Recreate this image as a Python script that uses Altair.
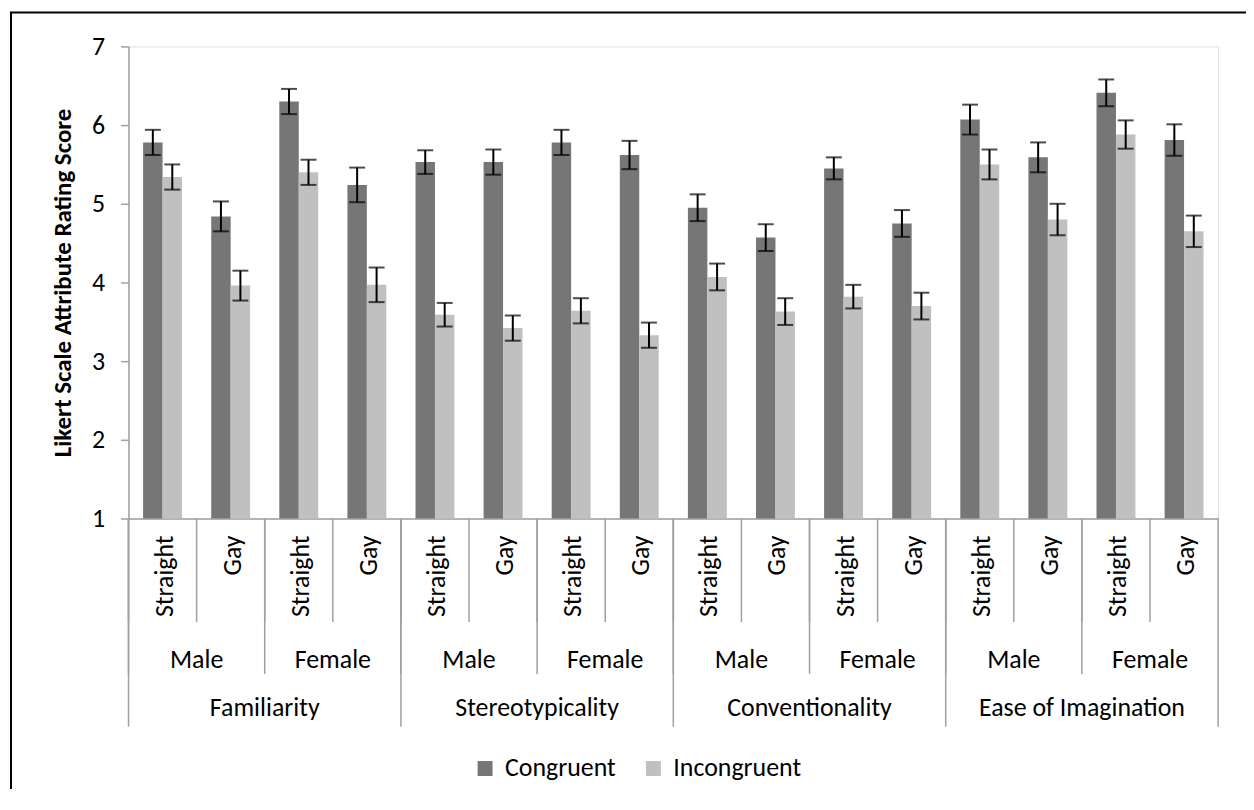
import altair as alt
import pandas as pd

# ---- data ----
attributes = ["Familiarity", "Stereotypicality", "Conventionality", "Ease of Imagination"]
genders = ["Male", "Female"]
orientations = ["Straight", "Gay"]
conditions = ["Congruent", "Incongruent"]

# order: attribute > gender > orientation (16 groups)
congruent_mean = [5.78, 4.84, 6.30, 5.24,
                  5.53, 5.53, 5.78, 5.62,
                  4.95, 4.57, 5.45, 4.75,
                  6.07, 5.59, 6.41, 5.81]
congruent_err = [0.16, 0.19, 0.16, 0.22,
                 0.15, 0.16, 0.16, 0.18,
                 0.17, 0.17, 0.14, 0.17,
                 0.19, 0.19, 0.17, 0.20]
incongruent_mean = [5.34, 3.96, 5.40, 3.97,
                    3.59, 3.42, 3.64, 3.33,
                    4.07, 3.63, 3.82, 3.70,
                    5.50, 4.80, 5.88, 4.65]
incongruent_err = [0.16, 0.19, 0.16, 0.22,
                   0.15, 0.16, 0.16, 0.16,
                   0.17, 0.17, 0.15, 0.17,
                   0.19, 0.20, 0.18, 0.20]

y_ticks = [1, 2, 3, 4, 5, 6, 7]

# ---- tables ----
groups = []
for a in attributes:
    for g in genders:
        for o in orientations:
            groups.append((a, g, o))
grp_ids = [f"{a}|{g}|{o}" for a, g, o in groups]

rows = []
for i, (a, g, o) in enumerate(groups):
    for c, m, e in (("Congruent", congruent_mean[i], congruent_err[i]),
                    ("Incongruent", incongruent_mean[i], incongruent_err[i])):
        rows.append(dict(grp=grp_ids[i], attribute=a, gender=g, orientation=o,
                         condition=c, mean=m, lo=m - e, hi=m + e))
df = pd.DataFrame(rows)

grp_df = pd.DataFrame(dict(grp=grp_ids, orientation=[o for _, _, o in groups]))
gender_df = pd.DataFrame(dict(grp=grp_ids[0::2], gender=[g for _, g, _ in groups[0::2]]))
attr_df = pd.DataFrame(dict(grp=grp_ids[1::4], attribute=attributes))
gender_sep_df = pd.DataFrame(dict(grp=grp_ids[0::2]))
attr_sep_df = pd.DataFrame(dict(grp=grp_ids[0::4]))
last_df = pd.DataFrame(dict(grp=[grp_ids[-1]]))
dummy = pd.DataFrame(dict(k=[0]))

W, H = 1094, 474
FONT = "Carlito, Lato"
GRAY = "#a0a0a0"

xscale = alt.Scale(domain=grp_ids, paddingInner=0, paddingOuter=0)


def X(**kw):
    return alt.X("grp:N", scale=xscale, sort=grp_ids, **kw)


yscale = alt.Scale(domain=[1, 7], nice=False, zero=False)
color_scale = alt.Scale(domain=conditions, range=["#767676", "#c0c0c0"])
xoff = alt.XOffset("condition:N", sort=conditions,
                   scale=alt.Scale(domain=conditions, paddingInner=0, paddingOuter=0.75))

bars = alt.Chart(df).mark_bar().encode(
    x=X(axis=alt.Axis(labels=False, ticks=False, domain=True, domainColor=GRAY,
                      domainWidth=1.5, title=None, grid=False)),
    xOffset=xoff,
    y=alt.Y("mean:Q", scale=yscale,
            axis=alt.Axis(values=y_ticks, format="d", grid=False, tickSize=8, tickColor=GRAY,
                          tickWidth=1.5, domainColor=GRAY, domainWidth=1.5,
                          labelFont=FONT, labelFontSize=26, labelColor="#000000",
                          labelPadding=16,
                          title="Likert Scale Attribute Rating Score",
                          titleFont=FONT, titleFontSize=25, titleFontWeight="bold",
                          titleColor="#000000", titlePadding=16)),
    y2=alt.datum(1),
    color=alt.Color("condition:N", scale=color_scale, sort=conditions,
                    legend=alt.Legend(title=None, orient="none", direction="horizontal",
                                      legendX=345, legendY=712, symbolType="square",
                                      symbolSize=225, symbolStrokeWidth=0,
                                      labelFont=FONT, labelFontSize=26,
                                      labelColor="#000000", labelOffset=7,
                                      columnPadding=24, padding=0)),
)

err_rule = alt.Chart(df).mark_rule(color="black", strokeWidth=2).encode(
    x=X(), xOffset=xoff, y=alt.Y("lo:Q", scale=yscale), y2="hi:Q")

err_top = alt.Chart(df).mark_tick(color="black", thickness=2, size=16, orient="horizontal").encode(
    x=X(), xOffset=xoff, y=alt.Y("hi:Q", scale=yscale))
err_bot = alt.Chart(df).mark_tick(color="black", thickness=2, size=16, orient="horizontal").encode(
    x=X(), xOffset=xoff, y=alt.Y("lo:Q", scale=yscale))

# category labels
orient_text = alt.Chart(grp_df).mark_text(
    angle=270, align="right", baseline="middle", font=FONT, fontSize=26, color="#000000", dy=2
).encode(x=X(), y=alt.value(H + 17), text="orientation:N")

gender_text = alt.Chart(gender_df).mark_text(
    align="center", baseline="alphabetic", font=FONT, fontSize=26, color="#000000"
).encode(x=X(bandPosition=1), y=alt.value(624), text="gender:N")

attr_text = alt.Chart(attr_df).mark_text(
    align="center", baseline="alphabetic", font=FONT, fontSize=26, color="#000000"
).encode(x=X(bandPosition=1), y=alt.value(672), text="attribute:N")

# separators
sep_orient = alt.Chart(grp_df).mark_rule(color=GRAY, strokeWidth=1.5).encode(
    x=X(bandPosition=0), y=alt.value(H), y2=alt.value(H + 104))
sep_gender = alt.Chart(gender_sep_df).mark_rule(color=GRAY, strokeWidth=1.5).encode(
    x=X(bandPosition=0), y=alt.value(H), y2=alt.value(H + 156))
sep_attr = alt.Chart(attr_sep_df).mark_rule(color=GRAY, strokeWidth=1.5).encode(
    x=X(bandPosition=0), y=alt.value(H), y2=alt.value(H + 209))
sep_last = alt.Chart(last_df).mark_rule(color=GRAY, strokeWidth=1.5).encode(
    x=X(bandPosition=1), y=alt.value(H), y2=alt.value(H + 209))

# outer frame (top and left edges visible in the reference)
frame_left = alt.Chart(dummy).mark_rule(color="black", strokeWidth=2).encode(
    x=alt.value(-118), y=alt.value(-34), y2=alt.value(H + 300))
frame_top = alt.Chart(dummy).mark_rule(color="black", strokeWidth=2).encode(
    y=alt.value(-34), x=alt.value(-119), x2=alt.value(W + 40))

chart = alt.layer(
    bars, err_rule, err_top, err_bot,
    orient_text, gender_text, attr_text,
    sep_orient, sep_gender, sep_attr, sep_last,
    frame_left, frame_top,
).properties(
    width=W, height=H,
    autosize=alt.AutoSizeParams(type="none"),
    padding={"left": 121, "top": 37, "right": 28, "bottom": 270},
).configure_view(stroke=None).configure(background="white")

chart.save("out.html", embed_options={"renderer": "svg", "actions": False})
